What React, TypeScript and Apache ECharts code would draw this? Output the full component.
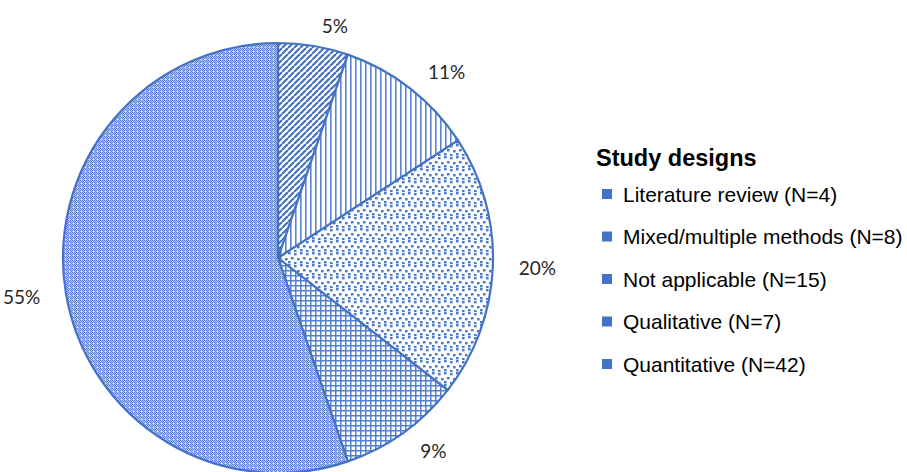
import React, { useEffect, useRef } from "react";
import * as echarts from "echarts";

const categories = [
  "Literature review (N=4)",
  "Mixed/multiple methods (N=8)",
  "Not applicable (N=15)",
  "Qualitative (N=7)",
  "Quantitative (N=42)",
];
const counts = [4, 8, 15, 7, 42];
const patternKinds = ["diag", "vert", "confetti", "grid", "checker"];
const legendTitle = "Study designs";

const BLUE = "#4472C4";

function makePattern(kind: string): HTMLCanvasElement {
  const c = document.createElement("canvas");
  const ctx = c.getContext("2d")!;
  if (kind === "diag") {
    c.width = 6; c.height = 6;
    ctx.fillStyle = "#fff"; ctx.fillRect(0, 0, 6, 6);
    ctx.strokeStyle = BLUE; ctx.lineWidth = 2.2;
    for (const o of [-6, 0, 6]) {
      ctx.beginPath(); ctx.moveTo(o, 6); ctx.lineTo(o + 6, 0); ctx.stroke();
    }
  } else if (kind === "vert") {
    c.width = 5; c.height = 5;
    ctx.fillStyle = "#fff"; ctx.fillRect(0, 0, 5, 5);
    ctx.fillStyle = "#5b84d0"; ctx.fillRect(0, 0, 1.6, 5);
  } else if (kind === "confetti") {
    c.width = 12; c.height = 12;
    ctx.fillStyle = "#fff"; ctx.fillRect(0, 0, 12, 12);
    ctx.fillStyle = "#4a78cc";
    const pts = [[0, 0], [6, 1], [3, 5], [9, 6], [0, 9], [6, 10]];
    for (const [x, y] of pts) ctx.fillRect(x, y, 2.6, 2.4);
  } else if (kind === "grid") {
    c.width = 5; c.height = 5;
    ctx.fillStyle = "#fff"; ctx.fillRect(0, 0, 5, 5);
    ctx.fillStyle = "#5580cf"; ctx.fillRect(0, 0, 1.5, 5); ctx.fillRect(0, 0, 5, 1.5);
  } else {
    c.width = 4; c.height = 4;
    ctx.fillStyle = "#b3c6ef"; ctx.fillRect(0, 0, 4, 4);
    ctx.fillStyle = "#5a83d3";
    ctx.fillRect(0, 0, 1, 1); ctx.fillRect(2, 0, 1, 1);
    ctx.fillRect(1, 1, 1, 1); ctx.fillRect(3, 1, 1, 1);
    ctx.fillRect(0, 2, 1, 1); ctx.fillRect(2, 2, 1, 1);
    ctx.fillRect(3, 3, 1, 1);
    ctx.fillStyle = "#e3ebfa"; ctx.fillRect(1, 3, 1, 1);
  }
  return c;
}

export default function App() {
  const ref = useRef<HTMLDivElement>(null);
  useEffect(() => {
    if (!ref.current) return;
    const chart = echarts.init(ref.current, undefined, { renderer: "svg" });
    const total = counts.reduce((a, b) => a + b, 0);
    const data = categories.map((name, i) => {
      const cv = makePattern(patternKinds[i]);
      return {
        name,
        value: counts[i],
        itemStyle: {
          color: { image: cv, repeat: "repeat", imageWidth: cv.width, imageHeight: cv.height } as any,
        },
      };
    });
    chart.setOption({
      animation: false,
      backgroundColor: "#fff",
      title: {
        text: legendTitle,
        left: 596,
        top: 144,
        padding: 0,
        textStyle: {
          fontFamily: "Liberation Sans, Arial, sans-serif",
          fontSize: 23.5,
          fontWeight: "bold",
          color: "#000",
          lineHeight: 28,
        },
      },
      legend: {
        orient: "vertical",
        left: 602,
        top: 182,
        itemWidth: 10,
        itemHeight: 10,
        itemGap: 18.5,
        icon: "rect",
        padding: 0,
        selectedMode: false,
        data: categories.map((name) => ({
          name,
          itemStyle: { color: BLUE, borderWidth: 0 },
        })),
        textStyle: {
          fontFamily: "Liberation Sans, Arial, sans-serif",
          fontSize: 21,
          color: "#000",
          lineHeight: 24,
          padding: [0, 0, 0, 6],
        },
      },
      series: [
        {
          type: "pie",
          center: [278, 258],
          radius: [0, 215],
          startAngle: 90,
          clockwise: true,
          avoidLabelOverlap: false,
          data,
          itemStyle: { borderColor: BLUE, borderWidth: 2.2 },
          label: {
            show: true,
            position: "outside",
            formatter: (p: any) => Math.round((p.value / total) * 100) + "%",
            fontFamily: "Lato, Carlito, Calibri, sans-serif",
            fontSize: 19,
            color: "#262626",
          },
          labelLine: { show: false, length: 21, length2: 0 },
          emphasis: { disabled: true },
        },
      ],
    });
    return () => chart.dispose();
  }, []);
  return (
    <div
      ref={ref}
      style={{ position: "absolute", left: 0, top: 0, width: 907, height: 472 }}
    />
  );
}
